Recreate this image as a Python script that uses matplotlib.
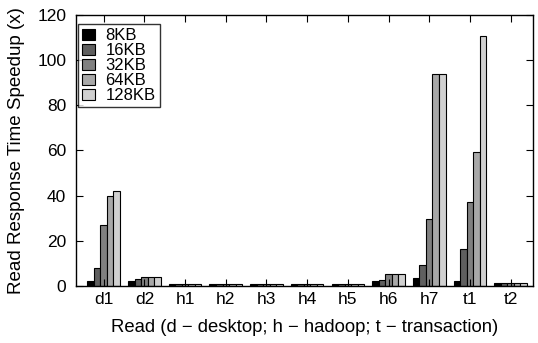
import matplotlib
matplotlib.use("Agg")
import matplotlib.pyplot as plt
import numpy as np

plt.rcParams['font.family'] = ['Liberation Sans', 'DejaVu Sans']

categories = ["d1", "d2", "h1", "h2", "h3", "h4", "h5", "h6", "h7", "t1", "t2"]
series_names = ["8KB", "16KB", "32KB", "64KB", "128KB"]
s8 = [2.1, 2.2, 1.0, 1.0, 1.0, 1.0, 1.0, 2.2, 3.5, 2.1, 1.2]
s16 = [7.8, 3.1, 1.0, 1.0, 1.0, 1.0, 1.0, 2.6, 9.2, 16.5, 1.3]
s32 = [26.9, 3.8, 1.0, 1.0, 1.0, 1.0, 1.0, 5.3, 29.6, 37.0, 1.3]
s64 = [40.0, 3.8, 1.0, 1.0, 1.0, 1.0, 1.0, 5.3, 94.0, 59.3, 1.3]
s128 = [42.0, 3.8, 1.0, 1.0, 1.0, 1.0, 1.0, 5.3, 94.0, 110.7, 1.3]
series = [s8, s16, s32, s64, s128]
colors = ["#000000", "#5f5f5f", "#808080", "#a8a8a8", "#d0d0d0"]
yticks = [0, 20, 40, 60, 80, 100, 120]

fig = plt.figure(figsize=(5.38, 3.43), dpi=100)
ax = fig.add_axes([0.1413, 0.1662, 0.9907 - 0.1413, 0.9563 - 0.1662])

x = np.arange(len(categories))
w = 0.16
for i, (vals, c, name) in enumerate(zip(series, colors, series_names)):
    ax.bar(x + (i - 2) * w, vals, width=w, color=c, edgecolor="black",
           linewidth=0.8, label=name)

ax.set_xlim(-0.68, 10.55)
ax.set_ylim(0, 120)
ax.set_xticks(x)
ax.set_xticklabels(categories)
ax.set_yticks(yticks)
ax.tick_params(direction="in", top=True, right=True, labelsize=12.5, length=5, width=0.8)
ax.tick_params(axis="y", pad=7)
ax.tick_params(axis="x", pad=4)
for s in ax.spines.values():
    s.set_linewidth(1.0)
ax.set_xlabel("Read (d \u2212 desktop; h \u2212 hadoop; t \u2212 transaction)", fontsize=13.3, labelpad=9)
ax.set_ylabel("Read Response Time Speedup (x)", fontsize=13.5, labelpad=9)

leg = ax.legend(loc="upper left", bbox_to_anchor=(0.004, 0.967), fontsize=12,
                frameon=True, fancybox=False, edgecolor="black",
                handlelength=0.8, handleheight=0.65, handletextpad=0.6,
                labelspacing=0.0, borderpad=0.25, borderaxespad=0.0)
leg.get_frame().set_linewidth(1.0)

fig.savefig("out.png", dpi=100)
